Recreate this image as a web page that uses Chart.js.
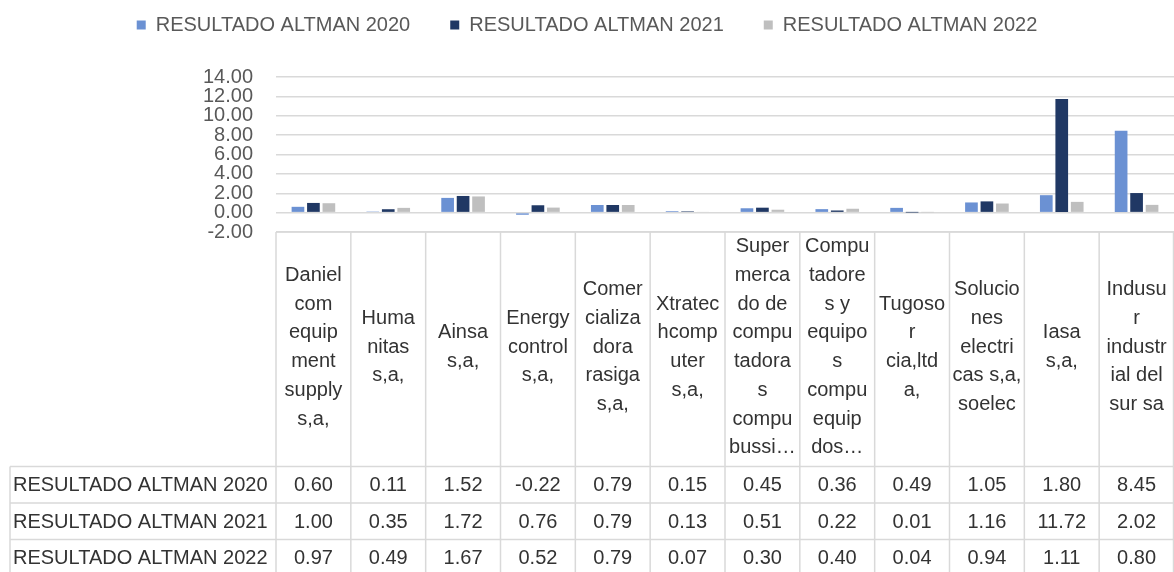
<!DOCTYPE html>
<html>
<head>
<meta charset="utf-8">
<script src="https://cdn.jsdelivr.net/npm/chart.js@4.4.1/dist/chart.umd.min.js"></script>
<style>
  html, body { margin: 0; padding: 0; background: #ffffff; }
  #wrap { width: 1174px; height: 572px; position: relative; }
</style>
</head>
<body>
<div id="wrap"><canvas id="chart" width="1174" height="572"></canvas></div>
<script>
// ---- Data ----
const categories = [
  ["Daniel", "com", "equip", "ment", "supply", "s,a,"],
  ["Huma", "nitas", "s,a,"],
  ["Ainsa", "s,a,"],
  ["Energy", "control", "s,a,"],
  ["Comer", "cializa", "dora", "rasiga", "s,a,"],
  ["Xtratec", "hcomp", "uter", "s,a,"],
  ["Super", "merca", "do de", "compu", "tadora", "s", "compu", "bussi\u2026"],
  ["Compu", "tadore", "s y", "equipo", "s", "compu", "equip", "dos\u2026"],
  ["Tugoso", "r", "cia,ltd", "a,"],
  ["Solucio", "nes", "electri", "cas s,a,", "soelec"],
  ["Iasa", "s,a,"],
  ["Indusu", "r", "industr", "ial del", "sur sa"]
];
const seriesNames = ["RESULTADO ALTMAN 2020", "RESULTADO ALTMAN 2021", "RESULTADO ALTMAN 2022"];
const altman2020 = [0.60, 0.11, 1.52, -0.22, 0.79, 0.15, 0.45, 0.36, 0.49, 1.05, 1.80, 8.45];
const altman2021 = [1.00, 0.35, 1.72, 0.76, 0.79, 0.13, 0.51, 0.22, 0.01, 1.16, 11.72, 2.02];
const altman2022 = [0.97, 0.49, 1.67, 0.52, 0.79, 0.07, 0.30, 0.40, 0.04, 0.94, 1.11, 0.80];
const yTickValues = [-2, 0, 2, 4, 6, 8, 10, 12, 14];

// ---- Styles ----
const FONT = '"Liberation Sans", Arial, sans-serif';
const FONT_SIZE = 20;
const colors = ["#6B91D3", "#203864", "#BFBFBF"];
const GRID = "#D9D9D9";
const TEXT = "#333333";
const AXIS_TEXT = "#595959";

const LEGEND_PAD = 40;
const LAYOUT_TOP = 25 - LEGEND_PAD - FONT_SIZE / 2;
const PLOT_TOP = 77;
const PLOT_BOTTOM = 232;
const PLOT_LEFT = 276;
const CANVAS_H = 572;

// legend height so that the plot area starts where it does in the reference
const legendSpacer = {
  id: "legendSpacer",
  afterInit(chart) {
    const lg = chart.legend;
    if (!lg || lg._spaced) return;
    const orig = lg.fit;
    lg.fit = function () { orig.call(this); this.height = PLOT_TOP - LAYOUT_TOP; };
    lg._spaced = true;
  }
};

// data table under the plot, positioned by the x scale
const dataTable = {
  id: "dataTable",
  afterDraw(chart) {
    const { ctx, chartArea } = chart;
    const xs = chart.scales.x;
    const n = chart.data.labels.length;
    const colW = xs.getPixelForValue(1) - xs.getPixelForValue(0);
    const top = chartArea.bottom;
    const headerBottom = 466.5;
    const rowH = 36.5;
    const leftEdge = 10;
    const rightEdge = chartArea.right - 0.5;
    const nRows = chart.data.datasets.length;

    ctx.save();
    ctx.strokeStyle = GRID;
    ctx.lineWidth = 1.5;
    ctx.beginPath();
    ctx.moveTo(chartArea.left, top); ctx.lineTo(rightEdge, top);
    for (let r = 0; r <= nRows; r++) {
      const y = headerBottom + r * rowH;
      ctx.moveTo(leftEdge, y); ctx.lineTo(rightEdge, y);
    }
    for (let i = 0; i <= n; i++) {
      const x = i < n ? xs.getPixelForValue(i) - colW / 2 : rightEdge;
      ctx.moveTo(x, top); ctx.lineTo(x, CANVAS_H);
    }
    ctx.moveTo(leftEdge, headerBottom); ctx.lineTo(leftEdge, CANVAS_H);
    ctx.stroke();

    ctx.fillStyle = TEXT;
    ctx.font = FONT_SIZE + "px " + FONT;
    ctx.textBaseline = "middle";
    ctx.textAlign = "center";
    const lineH = 28.7;
    const headMid = (top + headerBottom) / 2 - 2;
    chart.data.labels.forEach((lines, i) => {
      const cx = xs.getPixelForValue(i);
      const arr = Array.isArray(lines) ? lines : [lines];
      const y0 = headMid - (arr.length - 1) * lineH / 2;
      arr.forEach((t, k) => ctx.fillText(t, cx, y0 + k * lineH));
    });
    chart.data.datasets.forEach((ds, r) => {
      const cy = headerBottom + r * rowH + rowH / 2 + 1;
      ctx.textAlign = "left";
      ctx.fillText(ds.label, 13, cy);
      ctx.textAlign = "center";
      ds.data.forEach((v, i) => ctx.fillText(v.toFixed(2), xs.getPixelForValue(i), cy));
    });
    ctx.restore();
  }
};

const seriesData = [altman2020, altman2021, altman2022];

new Chart(document.getElementById("chart"), {
  type: "bar",
  data: {
    labels: categories,
    datasets: seriesNames.map((name, i) => ({
      label: name,
      data: seriesData[i],
      backgroundColor: colors[i],
      borderWidth: 0,
      categoryPercentage: 0.62,
      barPercentage: 0.82
    }))
  },
  options: {
    responsive: false,
    animation: false,
    devicePixelRatio: 1,
    layout: { padding: { top: LAYOUT_TOP, left: 0, right: 0, bottom: 0 } },
    plugins: {
      legend: {
        position: "top",
        align: "center",
        labels: {
          boxWidth: 9,
          boxHeight: 9,
          padding: LEGEND_PAD,
          color: AXIS_TEXT,
          font: { family: FONT, size: FONT_SIZE }
        }
      },
      tooltip: { enabled: false }
    },
    scales: {
      x: {
        ticks: { display: false },
        grid: { display: false },
        border: { display: false },
        afterFit(scale) { scale.height = CANVAS_H - PLOT_BOTTOM; }
      },
      y: {
        min: -2,
        max: 14,
        afterBuildTicks(scale) { scale.ticks = yTickValues.map(v => ({ value: v })); },
        ticks: {
          autoSkip: false,
          padding: 23,
          color: AXIS_TEXT,
          font: { family: FONT, size: FONT_SIZE },
          callback: v => Number(v).toFixed(2)
        },
        grid: { color: GRID, lineWidth: 1.5, drawTicks: false },
        border: { display: false },
        afterFit(scale) { scale.width = PLOT_LEFT; }
      }
    }
  },
  plugins: [legendSpacer, dataTable]
});
</script>
</body>
</html>
